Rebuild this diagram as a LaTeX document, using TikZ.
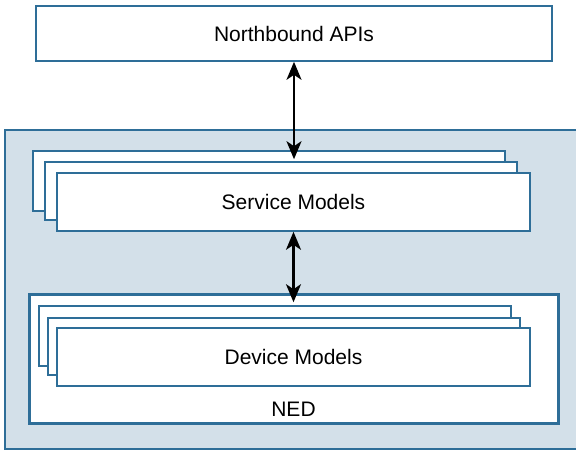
\documentclass[tikz,border=0pt]{standalone}
\usepackage{fontspec}
\setmainfont{Liberation Sans}
\usetikzlibrary{positioning,arrows.meta}
\definecolor{NsoBlue}{RGB}{46,110,152}
\definecolor{NsoFill}{RGB}{211,224,233}

\begin{document}
\begin{tikzpicture}[x=1pt, y=-1pt,
font=\fontsize{21}{25}\selectfont,
card/.style={draw=NsoBlue, line width=1.6pt, fill=white, inner sep=0pt, minimum width=472pt, minimum height=58pt},
frame/.style={draw=NsoBlue, inner sep=0pt},
arr/.style={{Stealth[length=18pt,width=15pt,inset=5pt]}-{Stealth[length=18pt,width=15pt,inset=5pt]}, line width=2.2pt, draw=black}
]
\useasboundingbox (0,0) rectangle (576,451);

\node[card, minimum width=516pt, minimum height=55pt] (nb) at (294,33.5) {Northbound APIs};

\node[frame, line width=2.6pt, fill=NsoFill, minimum width=574pt, minimum height=319pt] (core) at (292,289.5) {};

% service model stack
\node[card, minimum height=60pt] (svcback) at (269,181) {};
\node[card] (svcmid) at (281,191) {};
\node[card, minimum width=473pt] (svc) at (293.5,202) {Service Models};

% NED with device model stack
\node[frame, line width=3pt, fill=white, minimum width=529pt, minimum height=129pt] (ned) at (293.5,358.5) {};
\node[card, minimum height=60pt] (devback) at (275,336) {};
\node[card, minimum height=57pt] (devmid) at (284,346.5) {};
\node[card, minimum width=473pt] (dev) at (293.5,357) {Device Models};
\node[anchor=south, inner sep=0pt] (nedlabel) at ([yshift=8pt]ned.south) {NED};

\draw[arr] (nb.south) -- ([yshift=2pt]nb.south |- svcmid.north);
\draw[arr] (svc.south) -- ([yshift=3pt]svc.south |- devback.north);
\end{tikzpicture}
\end{document}
